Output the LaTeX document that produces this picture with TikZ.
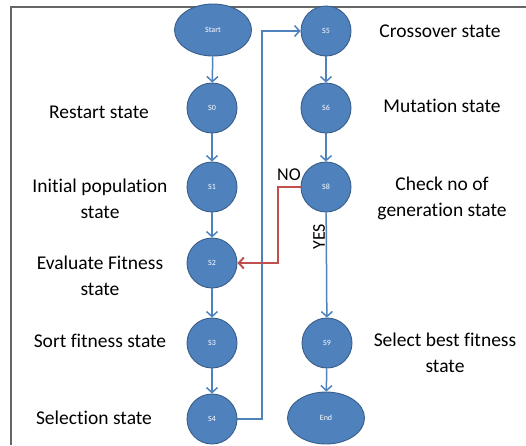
\documentclass[tikz,border=0pt]{standalone}
\usepackage{fontspec}
\setmainfont{Carlito}[Ligatures = NoCommon]
\usetikzlibrary{arrows.meta, shapes.geometric}
\definecolor{stblue}{RGB}{79,129,189}
\definecolor{stedge}{RGB}{56,93,138}
\definecolor{stred}{RGB}{192,80,77}
\begin{document}
\begin{tikzpicture}[x = 1pt, y = -1pt,
		state/.style = {circle, fill = stblue, draw = stedge, line width = 0.9pt, minimum size = 50pt, inner sep = 0pt, text = white, font = \fontsize{8}{9}\selectfont},
		term/.style = {ellipse, fill = stblue, draw = stedge, line width = 0.9pt, minimum width = 77pt, minimum height = 52pt, inner sep = 0pt, text = white, font = \fontsize{8}{9}\selectfont},
		lbl/.style = {align = center, font = \fontsize{19.5}{26}\selectfont},
		flow/.style = {draw = stblue, line width = 1.5pt, -{Straight Barb[length = 5pt, width = 11pt]}},
		back/.style = {draw = stred, line width = 2pt, -{Straight Barb[length = 5pt, width = 11pt]}}]
		\useasboundingbox (0, 0) rectangle (526, 445);
		%%%%%%%%%%%%%
		\draw [gray!80!black, line width = 1.2pt] (11, 445) -- (11, 7) -- (526, 7);
		%%%%%%%%%%%%%
		\node [term] (start) at (213, 30) {Start};
		\node [state] (s0) at (212, 108) {S0};
		\node [state] (s1) at (212, 187) {S1};
		\node [state] (s2) at (212, 263) {S2};
		\node [state] (s3) at (212, 343) {S3};
		\node [state] (s4) at (212, 419) {S4};
		\node [state] (s5) at (326, 31) {S5};
		\node [state] (s6) at (326, 108) {S6};
		\node [state] (s8) at (326, 187) {S8};
		\node [state] (s9) at (327, 343) {S9};
		\node [term] (end) at (326, 418) {End};
		%%%%%%%%%%%%%
		\node [lbl] (l0) at (99, 112) {Restart state};
		\node [lbl] (l1) at (100, 199) {Initial population\\state};
		\node [lbl] (l2) at (100, 276) {Evaluate Fitness\\state};
		\node [lbl] (l3) at (100, 341) {Sort fitness state};
		\node [lbl] (l4) at (94, 418) {Selection state};
		\node [lbl] (l5) at (440, 31) {Crossover state};
		\node [lbl] (l6) at (442, 106) {Mutation state};
		\node [lbl] (l8) at (442, 198) {Check no of\\generation state};
		\node [lbl] (l9) at (445, 353) {Select best fitness\\state};
		%%%%%%%%%%%%%
		\draw [flow] (start) to (s0); \draw [flow] (s0) to (s1);
		\draw [flow] (s1) to (s2); \draw [flow] (s2) to (s3); \draw [flow] (s3) to (s4);
		\draw [flow] (s4.east) -- (262, 419) |- (s5.west);
		\draw [flow] (s5) to (s6); \draw [flow] (s6) to (s8);
		\draw [flow] (s8) to node [pos = 0.23, rotate = 90, font = \fontsize{18}{18}\selectfont, above, inner sep = 0.5pt] {YES} (s9);
		\draw [flow] (s9) to (end);
		\draw [back] (s8.west) -- (278, 187) |- (s2.east);
		\node [font = \fontsize{18}{18}\selectfont] (no) at (289, 175) {NO};
\end{tikzpicture}
\end{document}
